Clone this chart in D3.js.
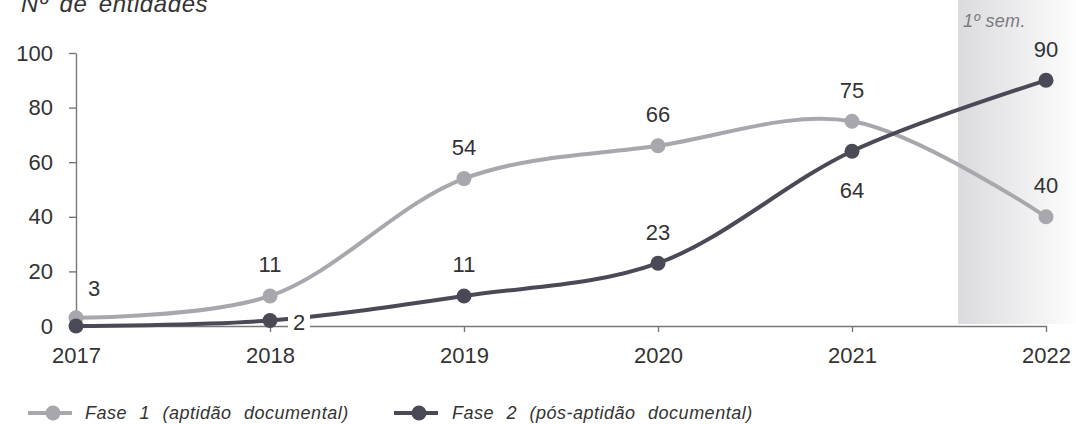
<!DOCTYPE html>
<html><head><meta charset="utf-8">
<script src="https://cdn.jsdelivr.net/npm/d3@7"></script>
<style>body{margin:0;background:#fff}svg{display:block;font-family:"Liberation Sans",Arial,sans-serif}</style>
</head><body><svg id="c" width="1076" height="424"></svg>
<script>
const years = ["2017","2018","2019","2020","2021","2022"];
const fase1 = [3, 11, 54, 66, 75, 40];
const fase2 = [0, 2, 11, 23, 64, 90];
const yTicks = [0, 20, 40, 60, 80, 100];
const seriesNames = ["Fase 1 (aptidão documental)", "Fase 2 (pós-aptidão documental)"];
const f1Lab = ["3","11","54","66","75","40"];
const f2Lab = [null,"2","11","23","64","90"];

const svg = d3.select("#c");
const x = d3.scalePoint().domain(years).range([76, 1046]);
const y = d3.scaleLinear().domain([0, 100]).range([326, 53]);

const defs = svg.append("defs");
const g = defs.append("linearGradient").attr("id","sh").attr("x1","0").attr("x2","1");
g.append("stop").attr("offset","0").attr("stop-color","#dbdbdf");
g.append("stop").attr("offset","1").attr("stop-color","#fdfdfd");
svg.append("rect").attr("x", 958).attr("y", 0).attr("width", 1076-958).attr("height", y(0)-2).attr("fill","url(#sh)");

svg.append("text").attr("x", 963).attr("y", 27)
  .attr("font-style","italic").attr("font-size", 18).attr("letter-spacing", 0.3).attr("fill","#7a7a80").text("1º sem.");

svg.append("text").attr("x", 21).attr("y", 12).attr("font-style","italic").attr("font-size", 24)
  .attr("letter-spacing", 0.6).attr("word-spacing", 4).attr("fill","#333").text("Nº de entidades");

// axes
const ya = svg.append("g").attr("transform","translate(76,0)")
  .call(d3.axisLeft(y).tickValues(yTicks).tickSize(7).tickPadding(16).tickSizeOuter(0));
const xa = svg.append("g").attr("transform",`translate(0,${y(0)})`)
  .call(d3.axisBottom(x).tickSize(6).tickPadding(15).tickSizeOuter(0));
[ya, xa].forEach(a => {
  a.selectAll("path,line").attr("stroke","#777").attr("stroke-width",1.4);
  a.selectAll("text").attr("font-size",22).attr("fill","#333").attr("font-family","Liberation Sans, Arial, sans-serif");
});

const line = d3.line().x((d,i)=>x(years[i])).y(d=>y(d)).curve(d3.curveCatmullRom.alpha(0.5));
const c1 = "#a7a7ad", c2 = "#4a4a56";
svg.append("path").datum(fase1).attr("d", line).attr("fill","none").attr("stroke",c1).attr("stroke-width",4);
svg.append("path").datum(fase2).attr("d", line).attr("fill","none").attr("stroke",c2).attr("stroke-width",4);
svg.selectAll(".p1").data(fase1).join("circle").attr("cx",(d,i)=>x(years[i])).attr("cy",d=>y(d)).attr("r",7.5).attr("fill",c1);
svg.selectAll(".p2").data(fase2).join("circle").attr("cx",(d,i)=>x(years[i])).attr("cy",d=>y(d)).attr("r",7.5).attr("fill",c2);

const lab = svg.append("g").attr("font-size",22).attr("fill","#333").attr("text-anchor","middle");
fase1.forEach((v,i)=>{
  const dx = i===0 ? 18 : 0;
  const dy = i===0 ? -22 : -23.5;
  lab.append("text").attr("x", x(years[i])+dx).attr("y", y(v)+dy).text(f1Lab[i]);
});
fase2.forEach((v,i)=>{
  if (!f2Lab[i]) return;
  if (i===1) {
    const tx = x(years[i])+29, ty = y(v)+9.5;
    lab.append("rect").attr("x", tx-11).attr("y", ty-18).attr("width",22).attr("height",22).attr("fill","#fff");
    lab.append("text").attr("x", tx).attr("y", ty).text(f2Lab[i]);
  } else if (i===4) {
    lab.append("text").attr("x", x(years[i])).attr("y", y(v)+47).text(f2Lab[i]);
  } else {
    lab.append("text").attr("x", x(years[i])).attr("y", y(v)-23.5).text(f2Lab[i]);
  }
});

// legend
const lg = svg.append("g").attr("font-size",18).attr("font-style","italic").attr("fill","#333")
  .attr("letter-spacing",0.5).attr("word-spacing",7);
[[28,c1,85],[394,c2,452]].forEach((l,k)=>{
  lg.append("line").attr("x1",l[0]).attr("x2",l[0]+44).attr("y1",413).attr("y2",413).attr("stroke",l[1]).attr("stroke-width",4);
  lg.append("circle").attr("cx",l[0]+25).attr("cy",413).attr("r",7.5).attr("fill",l[1]);
  lg.append("text").attr("x",l[2]).attr("y",419).text(seriesNames[k]);
});
</script></body></html>
